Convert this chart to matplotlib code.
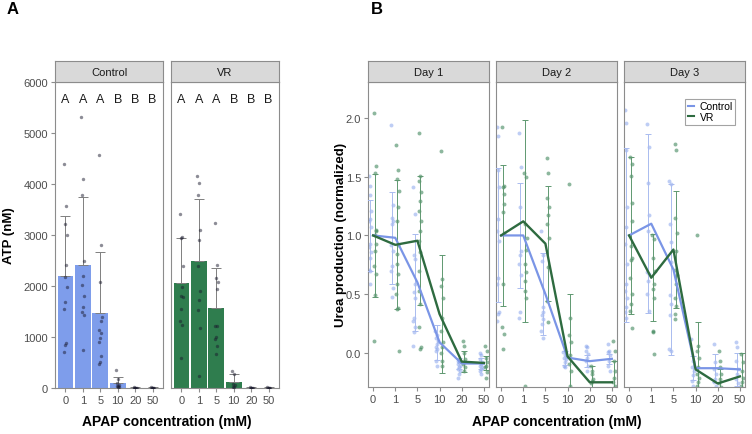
import matplotlib
matplotlib.use('Agg')
import matplotlib.pyplot as plt
from matplotlib.lines import Line2D
import numpy as np

plt.rcParams['font.family'] = ['Liberation Sans', 'DejaVu Sans']

# ---- data ----
conc_labels = ['0', '1', '5', '10', '20', '50']

# panel A: ATP
atp_ctrl_mean = [2190, 2410, 1470, 90, 5, 5]
atp_ctrl_sd = [1180, 1330, 1190, 120, 5, 5]
atp_vr_mean = [2065, 2485, 1575, 125, 5, 5]
atp_vr_sd = [875, 1215, 775, 145, 5, 5]
atp_letters = ['A', 'A', 'A', 'B', 'B', 'B']

atp_ctrl_pts = [
    [4390, 3575, 3215, 3005, 2420, 2185, 1975, 1680, 1550, 880, 845, 700],
    [5305, 4100, 3785, 2495, 2205, 2020, 1810, 1595, 1485, 1430, 750],
    [4560, 2810, 2070, 1385, 1305, 1135, 1070, 980, 895, 635, 505, 470],
    [360, 170, 90, 60, 40, 30, 20, 10],
    [10, 5, 3, 0, 0, 0],
    [10, 5, 3, 0, 0, 0],
]
atp_vr_pts = [
    [3410, 2955, 2935, 2400, 1975, 1795, 1780, 1550, 1320, 1235, 580],
    [4150, 4020, 3785, 3105, 2910, 2400, 1895, 1730, 1530, 1170, 240],
    [3240, 2410, 2150, 2085, 1940, 1220, 1210, 995, 960, 830, 665],
    [340, 275, 80, 60, 20, 10],
    [10, 5, 2, 0, 0],
    [10, 5, 2, 0, 0],
]

# panel B: urea, one row per day
days = ['Day 1', 'Day 2', 'Day 3']
urea_ctrl_mean = [[1.0, 0.98, 0.60, 0.09, -0.09, -0.09],
                  [1.0, 1.00, 0.50, -0.04, -0.07, -0.05],
                  [1.0, 1.10, 0.71, -0.13, -0.13, -0.14]]
urea_vr_mean = [[1.0, 0.92, 0.955, 0.33, -0.074, -0.085],
                [1.0, 1.12, 0.93, -0.03, -0.25, -0.25],
                [1.0, 0.64, 0.88, -0.14, -0.26, -0.20]]
urea_ctrl_sd = [[0.30, 0.39, 0.41, 0.15, 0.05, 0.05],
                [0.57, 0.45, 0.35, 0.06, 0.05, 0.04],
                [0.74, 0.76, 0.73, 0.10, 0.12, 0.14]]
urea_vr_sd = [[0.52, 0.55, 0.55, 0.50, 0.09, 0.06],
              [0.60, 0.86, 0.49, 0.53, 0.14, 0.18],
              [0.67, 0.37, 0.50, 0.40, 0.12, 0.20]]

urea_ctrl_pts = [
    [[1.51, 1.42, 1.34, 1.21, 1.14, 1.12, 1.07, 0.93, 0.90, 0.86, 0.81, 0.71, 0.70, 0.59],
     [1.94, 1.26, 1.15, 1.12, 1.10, 0.92, 0.87, 0.74, 0.70, 0.55, 0.48],
     [1.41, 1.18, 0.83, 0.80, 0.59, 0.52, 0.47, 0.30, 0.27, 0.22, 0.18, 0.06],
     [0.19, 0.15, 0.13, 0.10, 0.08, 0.05, 0.03, 0.02, -0.07, -0.11],
     [-0.07, -0.08, -0.09, -0.11, -0.12, -0.14, -0.15, -0.18, -0.21],
     [0.0, -0.02, -0.05, -0.08, -0.09, -0.11, -0.12, -0.14, -0.15, -0.18]],
    [[1.92, 1.85, 1.56, 1.41, 1.14, 1.04, 0.95, 0.64, 0.59, 0.35, 0.33, 0.27],
     [1.87, 1.58, 1.24, 0.87, 0.83, 0.76, 0.66, 0.35, 0.30],
     [1.04, 0.83, 0.78, 0.39, 0.35, 0.32, 0.29, 0.25, 0.19, 0.13],
     [0.01, -0.02, -0.04, -0.05, -0.08, -0.11, -0.12],
     [0.06, 0.05, 0.02, -0.01, -0.04, -0.07, -0.11, -0.15],
     [0.08, 0.02, 0.01, -0.02, -0.07, -0.11, -0.15]],
    [[2.07, 1.96, 1.73, 1.24, 1.07, 0.93, 0.76, 0.59, 0.53, 0.47, 0.39, 0.35, 0.30],
     [1.95, 1.75, 1.45, 1.17, 1.04, 0.69, 0.67, 0.61, 0.50, 0.36],
     [1.46, 1.44, 1.10, 0.94, 0.77, 0.49, 0.42, 0.32, 0.03, 0.02],
     [0.12, -0.07, -0.12, -0.15, -0.19, -0.24, -0.28],
     [0.08, -0.08, -0.14, -0.18, -0.22, -0.25, -0.28],
     [0.09, 0.05, -0.07, -0.14, -0.18, -0.22, -0.26]],
]
urea_vr_pts = [
    [[2.04, 1.59, 1.53, 1.05, 1.04, 1.0, 0.93, 0.87, 0.74, 0.67, 0.49, 0.10],
     [1.77, 1.56, 1.48, 1.38, 1.24, 1.12, 0.92, 0.84, 0.76, 0.67, 0.59, 0.50, 0.38, 0.37, 0.02],
     [1.87, 1.51, 1.46, 1.37, 1.29, 1.21, 1.12, 1.04, 0.95, 0.86, 0.70, 0.53, 0.42, 0.22, 0.05, 0.03],
     [1.72, 0.63, 0.57, 0.47, 0.30, 0.19, 0.09, 0.05, 0.0, -0.07, -0.11],
     [0.10, 0.06, 0.0, -0.05, -0.08, -0.09, -0.12, -0.15],
     [0.06, 0.02, -0.04, -0.08, -0.11, -0.12, -0.16, -0.21]],
    [[1.92, 1.42, 1.41, 1.35, 1.27, 1.20, 1.02, 0.59, 0.22, 0.16, 0.03],
     [1.53, 1.50, 1.10, 0.98, 0.88, 0.76, 0.69, 0.61, 0.53, 0.47, -0.28],
     [1.66, 1.53, 1.32, 1.24, 1.17, 1.10, 0.98, 0.73, 0.44, 0.26],
     [1.44, 0.30, 0.15, 0.09, -0.02, -0.09, -0.15, -0.28],
     [-0.11, -0.15, -0.18, -0.22, -0.24, -0.26],
     [0.10, 0.02, -0.07, -0.15, -0.21, -0.25, -0.28]],
    [[1.67, 1.61, 1.51, 1.28, 1.12, 0.91, 0.81, 0.79, 0.64, 0.50, 0.42, 0.36, 0.21],
     [1.0, 0.97, 0.81, 0.70, 0.59, 0.54, 0.47, 0.19, 0.18, -0.01],
     [1.78, 1.73, 1.15, 1.02, 0.87, 0.71, 0.66, 0.59, 0.47, 0.40, 0.33, 0.29],
     [1.0, 0.06, 0.02, -0.04, -0.12, -0.18, -0.21, -0.25, -0.28],
     [0.02, -0.07, -0.12, -0.18, -0.22, -0.26, -0.29],
     [-0.01, -0.08, -0.15, -0.21, -0.25, -0.28]],
]

# ---- style ----
W, H = 752, 435
BLUE = '#7E9DEB'
GREEN = '#2F7D4E'
LINE_BLUE = '#7A95E6'
LINE_GREEN = '#2E6B40'
FRAME = '#8C8C8C'
TICKTXT = '#4D4D4D'

fig = plt.figure(figsize=(W / 100, H / 100), dpi=100)


def px_axes(x0, y0, x1, y1):
    return fig.add_axes([x0 / W, 1 - y1 / H, (x1 - x0) / W, (y1 - y0) / H])


def strip(x0, x1, label):
    s = px_axes(x0, 62, x1, 83)
    s.set_facecolor('#D9D9D9')
    s.set_xticks([])
    s.set_yticks([])
    for sp in s.spines.values():
        sp.set_color(FRAME)
        sp.set_linewidth(0.8)
    s.text(0.5, 0.5, label, ha='center', va='center', fontsize=8,
           color='#1A1A1A', transform=s.transAxes)


def style_panel(ax, show_y):
    for sp in ax.spines.values():
        sp.set_color(FRAME)
        sp.set_linewidth(0.8)
    ax.tick_params(color=FRAME, length=3, width=0.8, labelcolor=TICKTXT,
                   labelsize=8, pad=2)
    if not show_y:
        ax.tick_params(axis='y', left=False, labelleft=False)


def jitter(n, w):
    return np.array([(((i * 7) % 11) - 5) / 5.0 * w for i in range(n)])


# ---- panel A ----
xa = np.arange(len(conc_labels))
for (x0, x1, name, means, sds, pts, col, show_y) in [
        (55, 163, 'Control', atp_ctrl_mean, atp_ctrl_sd, atp_ctrl_pts, BLUE, True),
        (171, 279, 'VR', atp_vr_mean, atp_vr_sd, atp_vr_pts, GREEN, False)]:
    ax = px_axes(x0, 83, x1, 389)
    ax.bar(xa, means, width=0.9, color=col, zorder=1)
    ax.errorbar(xa, means, yerr=[np.zeros(len(sds)), sds], fmt='none',
                ecolor='#7F7F7F', elinewidth=0.7, capsize=3.5, capthick=0.7, zorder=2)
    for i, vals in enumerate(pts):
        ax.scatter(xa[i] + jitter(len(vals), 0.08), vals, s=6, color='#1A1A2E',
                   alpha=0.5, linewidths=0, zorder=3)
    for i, lt in enumerate(atp_letters):
        ax.text(xa[i], 5670, lt, ha='center', va='center', fontsize=9, color='#1A1A1A')
    ax.set_xlim(-0.6, 5.6)
    ax.set_ylim(0, 6000)
    ax.set_xticks(xa)
    ax.set_xticklabels(conc_labels)
    ax.set_yticks(range(0, 6001, 1000))
    style_panel(ax, show_y)
    strip(x0, x1, name)

fig.text(9 / W, 1 - 236 / H, 'ATP (nM)', rotation=90, ha='center', va='center',
         fontsize=9.5, fontweight='bold')
fig.text(167 / W, 1 - 422 / H, 'APAP concentration (mM)', ha='center', va='center',
         fontsize=10, fontweight='bold')

# ---- panel B ----
xb = np.arange(len(conc_labels))
facets = [(368, 489), (496, 617), (624, 745)]
for d, (x0, x1) in enumerate(facets):
    ax = px_axes(x0, 83, x1, 388)
    for i in range(len(conc_labels)):
        cv = urea_ctrl_pts[d][i]
        vv = urea_vr_pts[d][i]
        ax.scatter(xb[i] - 0.14 + jitter(len(cv), 0.05), cv, s=8, color=BLUE,
                   alpha=0.5, linewidths=0, zorder=2)
        ax.scatter(xb[i] + 0.10 + jitter(len(vv), 0.05), vv, s=8, color=GREEN,
                   alpha=0.55, linewidths=0, zorder=2)
    ax.errorbar(xb - 0.13, urea_ctrl_mean[d], yerr=urea_ctrl_sd[d], fmt='none',
                ecolor='#A9BBEF', elinewidth=0.7, capsize=2, capthick=0.7, zorder=3)
    ax.errorbar(xb + 0.10, urea_vr_mean[d], yerr=urea_vr_sd[d], fmt='none',
                ecolor='#5E9870', elinewidth=0.7, capsize=2, capthick=0.7, zorder=3)
    ax.plot(xb, urea_ctrl_mean[d], color=LINE_BLUE, lw=1.6, zorder=4)
    ax.plot(xb, urea_vr_mean[d], color=LINE_GREEN, lw=1.7, zorder=5)
    ax.set_xlim(-0.23, 5.23)
    ax.set_ylim(-0.29, 2.306)
    ax.set_xticks(xb)
    ax.set_xticklabels(conc_labels)
    ax.set_yticks([0.0, 0.5, 1.0, 1.5, 2.0])
    ax.set_yticklabels(['0.0', '0.5', '1.0', '1.5', '2.0'])
    style_panel(ax, d == 0)
    strip(x0, x1, days[d])
    if d == 2:
        handles = [Line2D([0], [0], color=LINE_BLUE, lw=1.5),
                   Line2D([0], [0], color=LINE_GREEN, lw=1.5)]
        leg = ax.legend(handles, ['Control', 'VR'], loc='upper right',
                        bbox_to_anchor=(0.92, 0.945), borderaxespad=0,
                        fontsize=7.5, handlelength=0.6, handletextpad=0.5,
                        labelspacing=0.05, borderpad=0.25, fancybox=False)
        leg.get_frame().set_edgecolor(FRAME)
        leg.get_frame().set_linewidth(0.8)

fig.text(341 / W, 1 - 235 / H, 'Urea production (normalized)', rotation=90,
         ha='center', va='center', fontsize=9.5, fontweight='bold')
fig.text(557 / W, 1 - 422 / H, 'APAP concentration (mM)', ha='center', va='center',
         fontsize=10, fontweight='bold')

fig.text(13 / W, 1 - 10 / H, 'A', ha='center', va='center', fontsize=12, fontweight='bold')
fig.text(377 / W, 1 - 10 / H, 'B', ha='center', va='center', fontsize=12, fontweight='bold')

fig.savefig('out.png', dpi=100)
